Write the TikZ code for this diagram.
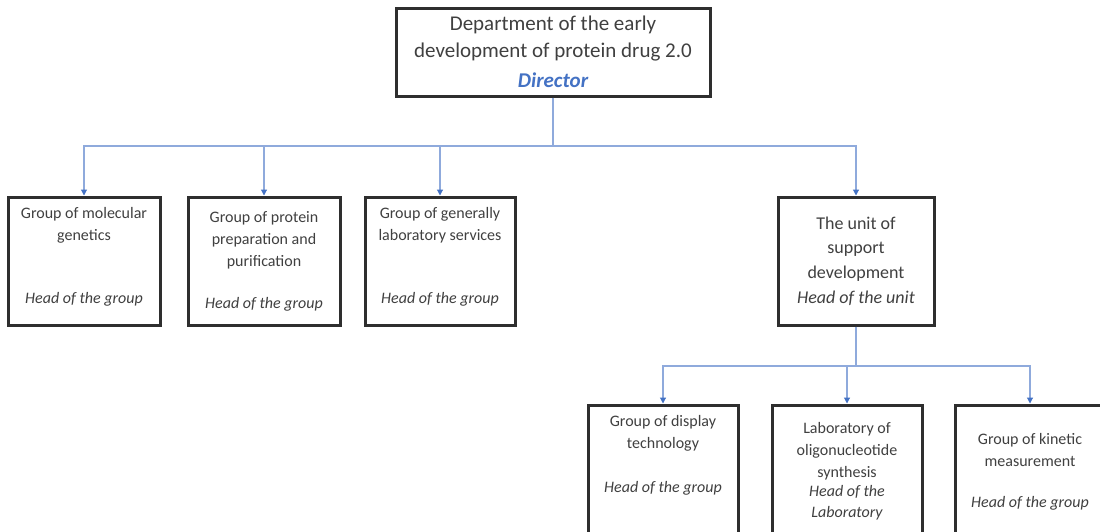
\documentclass[tikz,border=0pt]{standalone}
\usepackage{fontspec}
\setmainfont{Carlito}
\usetikzlibrary{arrows.meta}
\definecolor{conn}{RGB}{143,170,220}
\definecolor{tipc}{RGB}{68,114,196}
\definecolor{txt}{RGB}{64,64,64}
\tikzset{
  box/.style={draw=black!82, line width=3pt, fill=white, inner sep=0pt},
  sm/.style={font=\fontsize{16}{22}\selectfont, text=txt, align=center, anchor=center, inner sep=0pt},
  md/.style={font=\fontsize{18}{24.5}\selectfont, text=txt, align=center, anchor=center, inner sep=0pt},
  lg/.style={font=\fontsize{21}{27}\selectfont, text=txt, align=center, anchor=center, inner sep=0pt},
  link/.style={draw=conn, line width=1.1pt},
  arr/.style={link, -{Triangle[width=6pt,length=6pt,color=tipc]}}
}
\begin{document}
\begin{tikzpicture}[x=1pt,y=1pt]
\useasboundingbox (0,0) rectangle (1100,-531);
\clip (0,0) rectangle (1100,-531);
% boxes
\node[box, minimum width=314, minimum height=88] (top) at (553,-52) {};
\node[box, minimum width=152, minimum height=128] (b1) at (84,-261) {};
\node[box, minimum width=152, minimum height=128] (b2) at (264,-261) {};
\node[box, minimum width=150, minimum height=128] (b3) at (440,-261) {};
\node[box, minimum width=156, minimum height=128] (b4) at (856,-261) {};
\node[box, minimum width=150, minimum height=170] (b5) at (663,-490) {};
\node[box, minimum width=150, minimum height=170] (b6) at (847,-490) {};
\node[box, minimum width=150, minimum height=170] (b7) at (1030,-490) {};
% texts
\node[lg] (t0a) at (553,-25) {Department of the early};
\node[lg] (t0b) at (553,-52) {development of protein drug 2.0};
\node[lg, text=tipc, font=\fontsize{21}{27}\selectfont\bfseries\itshape] (t0c) at (553,-80) {Director};
\node[sm] (t1) at (84,-225) {Group of molecular\\genetics};
\node[sm] (t1h) at (84,-299) {\itshape Head of the group};
\node[sm] (t2) at (264,-240) {Group of protein\\preparation and\\purification};
\node[sm] (t2h) at (264,-304) {\itshape Head of the group};
\node[sm] (t3) at (440,-225) {Group of generally\\laboratory services};
\node[sm] (t3h) at (440,-299) {\itshape Head of the group};
\node[md] (t4) at (856,-249) {The unit of\\support\\development};
\node[md] (t4h) at (856,-298) {\itshape Head of the unit};
\node[sm] (t5) at (663,-433) {Group of display\\technology};
\node[sm] (t5h) at (663,-488) {\itshape Head of the group};
\node[sm] (t6) at (847,-451) {Laboratory of\\oligonucleotide\\synthesis};
\node[sm, font=\fontsize{16}{21}\selectfont\itshape] (t6h) at (847,-503) {Head of the\\Laboratory};
\node[sm] (t7) at (1030,-450) {Group of kinetic\\measurement};
\node[sm] (t7h) at (1030,-503) {\itshape Head of the group};
% connectors
\coordinate (j1) at (553,-146);
\coordinate (j2) at (856,-366);
\draw[link] (top.south) -- (j1);
\draw[arr] (j1) -| (b1.north);
\draw[arr] (j1) -| (b2.north);
\draw[arr] (j1) -| (b3.north);
\draw[arr] (j1) -| (b4.north);
\draw[link] (b4.south) -- (j2);
\draw[arr] (j2) -| (b5.north);
\draw[arr] (j2) -| (b6.north);
\draw[arr] (j2) -| (b7.north);
\end{tikzpicture}
\end{document}
